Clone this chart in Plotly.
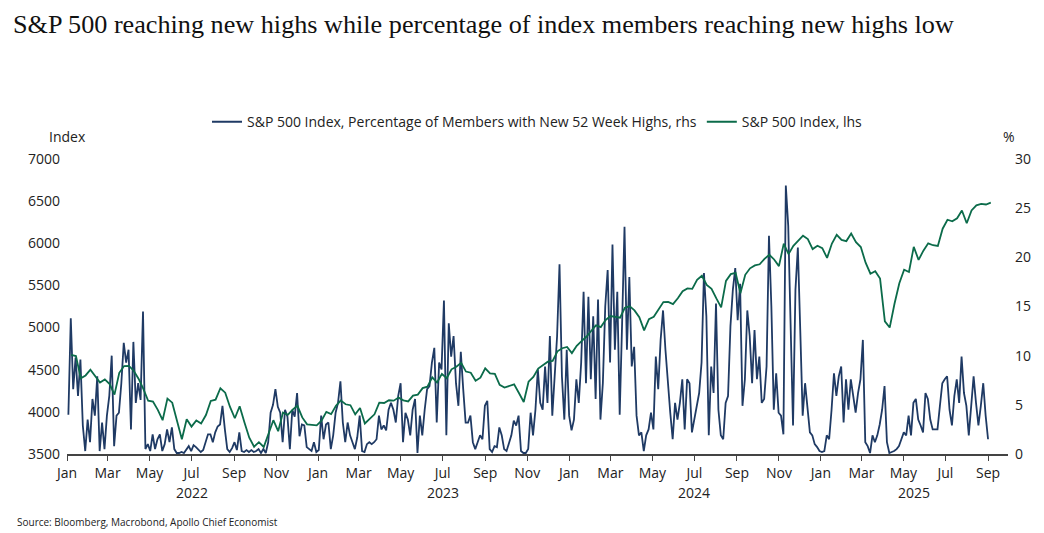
import pandas as pd
import plotly.graph_objects as go

# ---------------- data ----------------
# S&P 500 Index (weekly, lhs)
spx_2022 = [4677, 4662, 4398, 4432, 4500, 4419, 4349, 4385, 4329, 4204, 4463, 4543,
            4546, 4488, 4393, 4272, 4132, 4123, 4024, 3901, 4158, 4109, 3901, 3675,
            3912, 3825, 3899, 3863, 3962, 4130, 4145, 4280, 4228, 4058, 3924, 4067,
            3873, 3693, 3586, 3640, 3583, 3753, 3901, 3771, 3993, 3965, 4026, 4072,
            3934, 3852, 3845, 3840]
spx_2023 = [3895, 3999, 3973, 4071, 4136, 4090, 4079, 3970, 4046, 3862, 3917, 3971,
            4109, 4105, 4138, 4133, 4169, 4136, 4124, 4192, 4205, 4282, 4299, 4410,
            4348, 4450, 4399, 4505, 4536, 4582, 4478, 4464, 4370, 4406, 4516, 4457,
            4450, 4320, 4288, 4309, 4327, 4224, 4117, 4358, 4415, 4514, 4559, 4595,
            4604, 4719, 4755, 4770]
spx_2024 = [4697, 4784, 4840, 4891, 4959, 5027, 5006, 5089, 5137, 5124, 5117, 5234,
            5254, 5204, 5123, 4967, 5100, 5128, 5223, 5303, 5305, 5278, 5347, 5431,
            5465, 5460, 5567, 5615, 5505, 5459, 5346, 5240, 5554, 5634, 5648, 5408,
            5626, 5703, 5738, 5751, 5815, 5864, 5808, 5729, 5996, 5871, 5969, 6032,
            6090, 6051, 5931, 5971]
spx_2025 = [5942, 5827, 5997, 6101, 6041, 6026, 6115, 6013, 5955, 5770, 5639, 5668,
            5581, 5074, 5000, 5283, 5525, 5687, 5660, 5958, 5803, 5912, 6000, 5977,
            5968, 6173, 6279, 6260, 6297, 6389, 6238, 6389, 6450, 6467, 6460, 6482]
spx = spx_2022 + spx_2023 + spx_2024 + spx_2025

# Percentage of members with new 52-week highs (twice weekly, rhs)
pct_highs = [
    4.0, 13.8, 6.6, 9.8, 5.9, 9.6, 2.9, 0.3, 3.5, 1.2,
    5.6, 3.9, 7.9, 0.3, 3.2, 0.5, 3.9, 5.9, 10.0, 0.8,
    3.9, 4.2, 7.2, 11.3, 9.3, 10.6, 2.5, 11.4, 5.2, 7.2,
    5.5, 14.5, 0.5, 1.0, 0.3, 2.0, 0.5, 1.5, 2.0, 0.3,
    1.0, 2.5, 1.2, 2.7, 0.5, 0.1, 0.1, 0.2, 0.1, 0.4,
    0.8, 0.3, 0.9, 0.7, 0.4, 0.2, 0.4, 1.2, 2.0, 2.0,
    1.2, 2.2, 2.8, 3.0, 4.9, 2.5, 0.5, 0.2, 0.6, 1.2,
    0.4, 2.2, 0.3, 0.2, 0.4, 0.2, 0.4, 0.2, 0.3, 0.5,
    0.1, 0.5, 0.1, 1.2, 4.2, 5.0, 6.6, 4.8, 4.2, 1.2,
    4.5, 3.8, 0.5, 4.5, 3.8, 6.2, 1.8, 3.0, 2.9, 0.7,
    0.5, 0.3, 1.2, 0.2, 0.4, 3.9, 1.5, 3.0, 3.2, 0.5,
    1.9, 4.2, 5.2, 7.4, 3.2, 1.2, 3.2, 1.9, 1.2, 0.5,
    1.7, 3.9, 0.3, 0.2, 1.0, 1.2, 1.0, 1.2, 1.5, 3.9,
    2.5, 2.9, 2.4, 4.5, 5.2, 4.5, 3.2, 5.9, 7.2, 1.2,
    4.2, 3.5, 1.9, 4.5, 5.6, 0.1, 3.9, 1.9, 4.5, 6.6,
    6.9, 9.3, 10.8, 3.2, 9.3, 8.6, 15.6, 1.9, 13.3, 9.9,
    12.0, 7.2, 4.9, 10.4, 6.6, 3.2, 3.2, 3.9, 1.2, 0.5,
    1.2, 1.9, 1.5, 4.9, 5.4, 0.5, 0.2, 0.8, 0.7, 2.7,
    1.9, 0.5, 0.3, 1.2, 1.9, 3.4, 2.9, 3.9, 0.3, 0.1,
    0.1, 0.5, 4.2, 1.9, 4.5, 8.6, 5.2, 4.5, 8.9, 5.2,
    12.0, 3.9, 8.6, 12.0, 19.3, 7.9, 3.5, 10.6, 3.9, 2.4,
    3.5, 7.6, 5.2, 9.3, 16.5, 7.2, 16.0, 7.6, 14.0, 5.6,
    15.7, 3.5, 7.2, 15.0, 18.7, 9.3, 21.3, 10.6, 16.5, 4.0,
    13.3, 23.1, 10.6, 18.0, 8.9, 10.9, 3.9, 1.9, 2.2, 0.3,
    1.9, 2.5, 4.2, 2.5, 9.9, 6.6, 11.6, 14.6, 10.6, 7.2,
    4.2, 1.5, 5.2, 3.5, 5.2, 7.6, 2.5, 7.6, 7.2, 2.2,
    3.5, 4.5, 6.2, 9.3, 18.4, 14.0, 1.9, 8.9, 6.2, 15.3,
    4.5, 1.9, 1.5, 5.2, 5.9, 13.0, 16.7, 18.9, 13.6, 17.3,
    4.9, 7.6, 14.6, 12.0, 7.2, 12.6, 7.6, 9.9, 5.2, 5.6,
    8.9, 22.2, 15.0, 4.5, 8.2, 4.2, 3.9, 2.0, 27.3, 23.2,
    11.6, 2.9, 16.7, 21.0, 12.6, 3.9, 7.2, 4.9, 2.2, 1.9,
    1.0, 0.7, 0.3, 0.2, 0.3, 1.9, 1.5, 4.5, 8.2, 5.9,
    7.9, 8.9, 3.2, 7.6, 4.5, 7.6, 5.9, 4.2, 6.2, 7.6,
    11.6, 1.2, 0.8, 0.1, 1.9, 1.2, 1.9, 3.0, 4.5, 6.9,
    1.2, 0.1, 0.2, 0.3, 0.5, 0.8, 1.5, 2.2, 1.9, 3.9,
    1.9, 5.2, 5.6, 3.5, 2.9, 2.2, 6.2, 5.6, 3.5, 2.5,
    2.5, 2.5, 4.9, 7.2, 7.6, 7.9, 4.5, 2.9, 5.9, 7.6,
    5.2, 9.9, 6.2, 4.9, 1.9, 4.9, 7.9, 5.2, 2.9, 4.9,
    7.2, 3.9, 1.5,
]

spx_dates = pd.date_range("2022-01-07", periods=len(spx), freq="7D")
pct_dates = pd.date_range("2022-01-03", periods=len(pct_highs), freq="84h")

month_ticks = pd.date_range("2022-01-01", "2025-09-01", freq="2MS")
month_labels = [d.strftime("%b") for d in month_ticks]
year_labels = ["2022", "2023", "2024", "2025"]
year_label_dates = ["2022-07-01", "2023-07-01", "2024-07-01", "2025-05-16"]

left_ticks = [3500, 4000, 4500, 5000, 5500, 6000, 6500, 7000]
right_ticks = [0, 5, 10, 15, 20, 25, 30]

BLUE = "#1f3a64"
GREEN = "#0b6b4a"
FONT = "Open Sans"

# page body has an 8px margin, so the figure is sized to fit inside it
W, H = 1036, 525

fig = go.Figure()
fig.add_trace(go.Scatter(
    x=pct_dates, y=pct_highs, mode="lines", yaxis="y",
    name="S&P 500 Index, Percentage of Members with New 52 Week Highs, rhs",
    line=dict(color=BLUE, width=1.8)))
fig.add_trace(go.Scatter(
    x=spx_dates, y=spx, mode="lines", yaxis="y2",
    name="S&P 500 Index, lhs",
    line=dict(color=GREEN, width=1.8)))

fig.update_layout(
    width=W, height=H,
    margin=dict(l=59, r=36, t=151, b=79),
    paper_bgcolor="white", plot_bgcolor="white",
    font=dict(family=FONT, size=14, color="#222"),
    title=dict(text="S&P 500 reaching new highs while percentage of index members reaching new highs low",
               font=dict(family="Liberation Serif", size=26.2, color="#111"),
               x=5 / W, xanchor="left", xref="container",
               y=1 - 7 / H, yanchor="top", yref="container"),
    xaxis=dict(type="date", range=["2022-01-01", "2025-09-30"],
               tickvals=month_ticks, ticktext=month_labels,
               showgrid=False, zeroline=False,
               showline=True, linecolor="#444", linewidth=1.5,
               ticks="outside", ticklen=5, tickcolor="#444", tickwidth=1,
               tickfont=dict(size=14)),
    yaxis=dict(side="right", range=[0, 30], tickvals=right_ticks,
               showgrid=False, zeroline=False, showline=False, ticks="",
               ticklabelstandoff=6, tickfont=dict(size=14)),
    yaxis2=dict(side="left", overlaying="y", range=[3500, 7000], tickvals=left_ticks,
                showgrid=False, zeroline=False, showline=False, ticks="",
                ticklabelstandoff=6, tickfont=dict(size=14)),
    legend=dict(orientation="h", x=0.5, xanchor="center", y=1.125, yanchor="middle",
                font=dict(size=14), itemwidth=30, tracegroupgap=0,
                bgcolor="rgba(0,0,0,0)"),
    showlegend=True,
)

annotations = [
    dict(text="Index", x=0, xref="paper", xanchor="center", y=1.0746, yref="paper",
         yanchor="middle", showarrow=False, font=dict(size=14)),
    dict(text="%", x=1.001, xref="paper", xanchor="center", y=1.0746, yref="paper",
         yanchor="middle", showarrow=False, font=dict(size=14)),
    dict(text="Source: Bloomberg, Macrobond, Apollo Chief Economist", x=-0.0553, xref="paper",
         xanchor="left", y=-0.2305, yref="paper", yanchor="middle", showarrow=False,
         font=dict(size=10)),
]
for lab, d in zip(year_labels, year_label_dates):
    annotations.append(dict(text=lab, x=d, xref="x", xanchor="center", y=-0.132,
                            yref="paper", yanchor="middle", showarrow=False,
                            font=dict(size=14)))
fig.update_layout(annotations=annotations)

fig.write_html("out.html")
